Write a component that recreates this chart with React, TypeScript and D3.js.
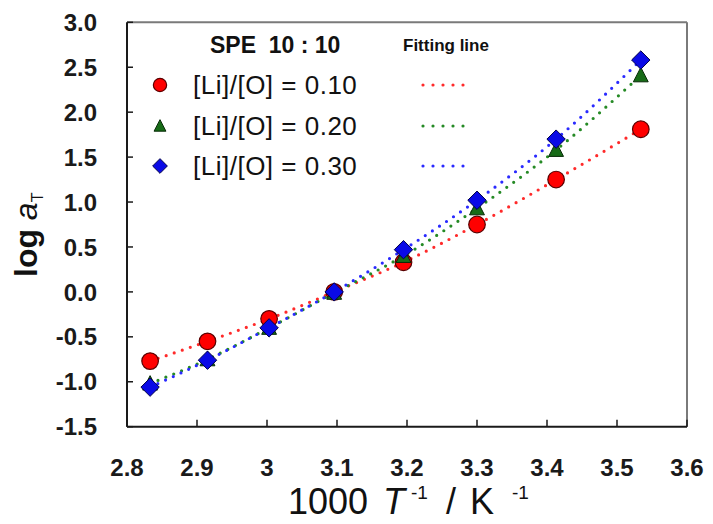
import React from "react";
import * as d3 from "d3";

const invT = [2.833, 2.915, 3.003, 3.096, 3.195, 3.3, 3.413, 3.534];
const red010 = [-0.77, -0.55, -0.3, 0.0, 0.33, 0.75, 1.25, 1.81];
const green020 = [-1.02, -0.75, -0.4, -0.01, 0.4, 0.93, 1.58, 2.41];
const blue030 = [-1.06, -0.76, -0.4, 0.0, 0.47, 1.02, 1.7, 2.58];
const xTicks = [2.8, 2.9, 3.0, 3.1, 3.2, 3.3, 3.4, 3.5, 3.6];
const yTicks = [3.0, 2.5, 2.0, 1.5, 1.0, 0.5, 0.0, -0.5, -1.0, -1.5];
const seriesLabels = ["[Li]/[O] = 0.10", "[Li]/[O] = 0.20", "[Li]/[O] = 0.30"];

const W = 713;
const H = 524;
const L = 127, R = 687, T = 22.3, B = 426.7;

const colors = {
  red: { fill: "#ff0000", stroke: "#5a0000", line: "#ff2a2a" },
  green: { fill: "#176b17", stroke: "#062a06", line: "#258a25" },
  blue: { fill: "#0a0ae6", stroke: "#00004a", line: "#2a2aff" },
};

function Marker({ kind, x, y, s, c }: any) {
  if (kind === "circle") {
    return <circle cx={x} cy={y} r={s} fill={c.fill} stroke={c.stroke} strokeWidth={1.2} />;
  }
  if (kind === "triangle") {
    const h = s * 1.85;
    const w = s * 1.9;
    const pts = `${x},${y - h * 0.55} ${x + w / 2},${y + h * 0.45} ${x - w / 2},${y + h * 0.45}`;
    return <polygon points={pts} fill={c.fill} stroke={c.stroke} strokeWidth={1} />;
  }
  const d = s * 1.15;
  const pts = `${x},${y - d} ${x + d},${y} ${x},${y + d} ${x - d},${y}`;
  return <polygon points={pts} fill={c.fill} stroke={c.stroke} strokeWidth={1} />;
}

export default function App() {
  const x = d3.scaleLinear().domain([2.8, 3.6]).range([L, R]);
  const y = d3.scaleLinear().domain([-1.5, 3.0]).range([B, T]);
  const line = d3
    .line<[number, number]>()
    .x((d) => x(d[0]))
    .y((d) => y(d[1]))
    .curve(d3.curveMonotoneX);

  const series = [
    { vals: red010, c: colors.red, kind: "circle", s: 8.3 },
    { vals: green020, c: colors.green, kind: "triangle", s: 7.8 },
    { vals: blue030, c: colors.blue, kind: "diamond", s: 8 },
  ];

  const legendRows = [85, 126, 166];
  const xFmt = (v: number) => (Math.abs(v - 3) < 1e-9 ? "3" : v.toFixed(1));

  return (
    <svg
      width={W}
      height={H}
      style={{ position: "absolute", left: 0, top: 0, background: "#fff" }}
    >
      <rect x={0} y={0} width={W} height={H} fill="#fff" />

      {/* frame */}
      <line x1={L} y1={T} x2={R} y2={T} stroke="#7a7a7a" strokeWidth={2} />
      <line x1={R} y1={T} x2={R} y2={B} stroke="#7a7a7a" strokeWidth={2} />
      <line x1={L} y1={T} x2={L} y2={B} stroke="#1a1a1a" strokeWidth={2} />
      <line x1={L} y1={B} x2={R} y2={B} stroke="#1a1a1a" strokeWidth={2} />

      {/* y ticks */}
      {yTicks.map((v) => (
        <g key={"y" + v}>
          <line x1={L} x2={L + 6} y1={y(v)} y2={y(v)} stroke="#1a1a1a" strokeWidth={1.5} />
          <text
            x={97}
            y={y(v)}
            dy="0.36em"
            textAnchor="end"
            fontFamily="'Liberation Sans', Arial, sans-serif"
            fontWeight="bold"
            fontSize={24}
            fill="#1a1a1a"
          >
            {v.toFixed(1)}
          </text>
        </g>
      ))}

      {/* x ticks */}
      {xTicks.map((v) => (
        <g key={"x" + v}>
          <line x1={x(v)} x2={x(v)} y1={B} y2={B - 7} stroke="#1a1a1a" strokeWidth={1.5} />
          <text
            x={x(v)}
            y={476}
            textAnchor="middle"
            fontFamily="'Liberation Sans Narrow', 'Liberation Sans', Arial, sans-serif"
            fontWeight="bold"
            fontSize={24}
            fill="#1a1a1a"
          >
            {xFmt(v)}
          </text>
        </g>
      ))}

      {/* axis titles */}
      <text
        y={514}
        fontFamily="'Liberation Sans', Arial, sans-serif"
        fontSize={36}
        fill="#111"
      >
        <tspan x={288}>1000</tspan>
        <tspan x={383} fontStyle="italic">T</tspan>
        <tspan x={411} fontSize={19} dy={-15}>-1</tspan>
        <tspan x={446} dy={15}>/</tspan>
        <tspan x={470}>K</tspan>
        <tspan x={512} fontSize={19} dy={-15}>-1</tspan>
      </text>
      <text
        transform={`translate(37,277) rotate(-90)`}
        fontFamily="'Liberation Sans', Arial, sans-serif"
        fontSize={32}
        fontWeight="bold"
        fill="#111"
      >
        log <tspan fontStyle="italic" fontWeight="normal">a</tspan>
        <tspan fontSize={16} dy={6} fontWeight="normal">T</tspan>
      </text>

      {/* fitting lines */}
      {series.map((s, i) => (
        <path
          key={"l" + i}
          d={line(invT.map((t, j) => [t, s.vals[j]]) as [number, number][]) || ""}
          fill="none"
          stroke={s.c.line}
          strokeWidth={3.2}
          strokeLinecap="round"
          strokeDasharray="0 8.5"
        />
      ))}

      {/* markers */}
      {series.map((s, i) => (
        <g key={"m" + i}>
          {invT.map((t, j) => (
            <Marker key={j} kind={s.kind} x={x(t)} y={y(s.vals[j])} s={s.s} c={s.c} />
          ))}
        </g>
      ))}

      {/* legend */}
      <text
        x={210}
        y={53}
        fontFamily="'Liberation Sans', Arial, sans-serif"
        fontWeight="bold"
        fontSize={23}
        fill="#111"
      >
        {"SPE\u00A0\u00A010 : 10"}
      </text>
      <text
        x={403}
        y={51}
        fontFamily="'Liberation Sans', Arial, sans-serif"
        fontWeight="bold"
        fontSize={17}
        fill="#111"
      >
        Fitting line
      </text>
      {series.map((s, i) => (
        <g key={"lg" + i}>
          <Marker kind={s.kind} x={160} y={legendRows[i]} s={s.s * 0.8} c={s.c} />
          <text
            x={193}
            y={legendRows[i] + 9}
            fontFamily="'Liberation Sans', Arial, sans-serif"
            fontSize={26}
            letterSpacing={0.5}
            fill="#111"
          >
            {seriesLabels[i]}
          </text>
          <line
            x1={423}
            x2={473}
            y1={legendRows[i]}
            y2={legendRows[i]}
            stroke={s.c.line}
            strokeWidth={3.2}
            strokeLinecap="round"
            strokeDasharray="0 10"
          />
        </g>
      ))}
    </svg>
  );
}
